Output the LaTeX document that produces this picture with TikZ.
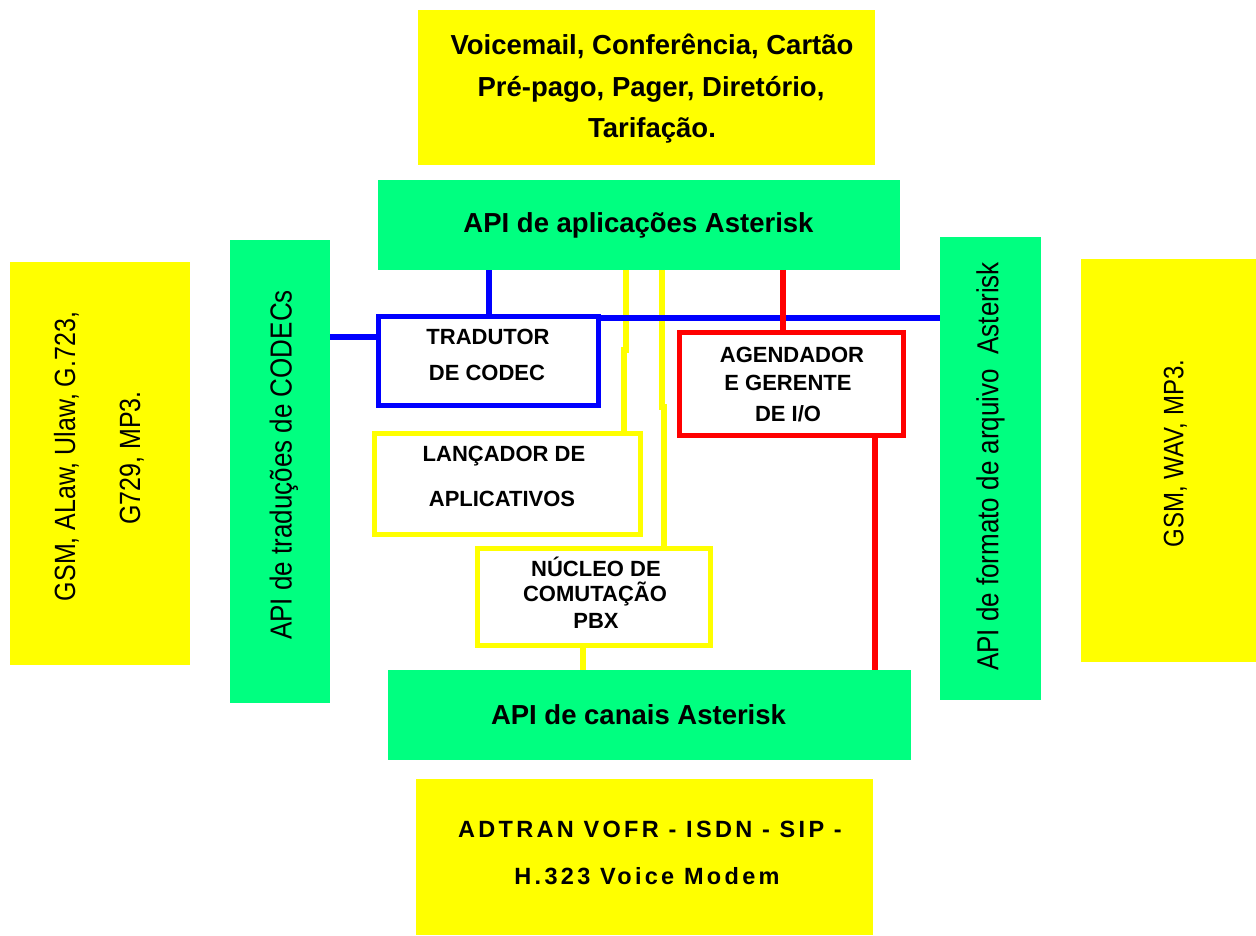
\documentclass[tikz,border=0pt]{standalone}
\usepackage{fontspec}
\setmainfont{Liberation Sans}
\usepackage{graphicx}
\definecolor{ygold}{RGB}{255,255,0}
\definecolor{sgreen}{RGB}{0,255,128}
\definecolor{lblue}{RGB}{0,0,255}
\definecolor{lred}{RGB}{255,0,0}
\newcommand{\vstretch}[1]{\scalebox{1}[1.17]{#1}}
\begin{document}
\begin{tikzpicture}[x=1pt,y=-1pt,
  plainbox/.style={inner sep=0pt, outer sep=0pt, draw=none},
  ybox/.style={plainbox, fill=ygold},
  gbox/.style={plainbox, fill=sgreen},
  framebox/.style={draw=#1, line width=5pt, fill=white, inner sep=0pt, outer sep=0pt},
  conn/.style={draw=#1, line width=6pt},
  bigtxt/.style={font=\fontsize{27.5}{33}\selectfont\bfseries, anchor=base, inner sep=0pt},
  lstxt/.style={font=\fontsize{23.5}{28}\selectfont\bfseries\addfontfeatures{LetterSpace=14}, anchor=base, inner sep=0pt},
  smalltxt/.style={font=\fontsize{22}{26}\selectfont\bfseries, anchor=base, inner sep=0pt},
  verttxt/.style={font=\fontsize{#1}{30}\selectfont, anchor=base, inner sep=0pt, rotate=90},
]
\fill[white] (0,0) rectangle (1256,936);
\useasboundingbox (0,0) rectangle (1256,936);

% outer boxes
\node[ybox, minimum width=457pt, minimum height=155pt] (apps) at (646.5,87.5) {};
\node[gbox, minimum width=522pt, minimum height=90pt] (appapi) at (639,225) {};
\node[ybox, minimum width=180pt, minimum height=403pt] (codecs) at (100,463.5) {};
\node[gbox, minimum width=100pt, minimum height=463pt] (codecapi) at (280,471.5) {};
\node[gbox, minimum width=101pt, minimum height=463pt] (fileapi) at (990.5,468.5) {};
\node[ybox, minimum width=185pt, minimum height=403pt] (formats) at (1173.5,460.5) {};
\node[gbox, minimum width=523pt, minimum height=90pt] (chanapi) at (649.5,715) {};
\node[ybox, minimum width=457pt, minimum height=156pt] (chans) at (644.5,857) {};

% inner boxes
\node[framebox=lblue, minimum width=220pt, minimum height=89pt] (tradutor) at (488.5,361) {};
\node[framebox=lred, minimum width=224pt, minimum height=103pt] (agendador) at (791.5,384) {};
\node[framebox=ygold, minimum width=266pt, minimum height=101pt] (lancador) at (507.5,484) {};
\node[framebox=ygold, minimum width=233pt, minimum height=97pt] (nucleo) at (594,597) {};

% connectors
\draw[conn=ygold] (appapi.south -| 626,0) -- (626,350) -- (623.5,350) -- (lancador.north -| 623.5,0);
\draw[conn=ygold] (appapi.south -| 662,0) -- (662,407) -- (663.5,407) -- (nucleo.north -| 663.5,0);
\draw[conn=ygold] (nucleo.south -| 583,0) -- (chanapi.north -| 583,0);
\draw[conn=lblue] (tradutor.north) -- (tradutor.north |- appapi.south);
\draw[conn=lblue] (codecapi.east |- 0,337) -- (tradutor.west |- 0,337);
\draw[conn=lblue] (tradutor.east |- 0,318) -- (fileapi.west |- 0,318);
\draw[conn=lred] (appapi.south -| 783,0) -- (agendador.north -| 783,0);
\draw[conn=lred] (agendador.south -| 875,0) -- (chanapi.north -| 875,0);

% texts
\node[bigtxt] (apps-1) at (652,55) {Voicemail, Conferência, Cartão};
\node[bigtxt] (apps-2) at (651,96.5) {Pré-pago, Pager, Diretório,};
\node[bigtxt] (apps-3) at (652,138) {Tarifação.};
\node[bigtxt] (appapi-t) at (638.5,232.8) {API de aplicações Asterisk};
\node[bigtxt] (chanapi-t) at (638.5,724.3) {API de canais Asterisk};
\node[lstxt] (chans-1) at (650,837.4) {ADTRAN VOFR - ISDN - SIP -};
\node[lstxt] (chans-2) at (647,884.1) {H.323 Voice Modem};

\node[smalltxt] (tradutor-1) at (488,344.9) {TRADUTOR};
\node[smalltxt] (tradutor-2) at (487,380.9) {DE CODEC};
\node[smalltxt] (agendador-1) at (792,362.9) {AGENDADOR};
\node[smalltxt] (agendador-2) at (788,390.9) {E GERENTE};
\node[smalltxt] (agendador-3) at (788,421.2) {DE I/O};
\node[smalltxt] (lancador-1) at (504,461.2) {LANÇADOR DE};
\node[smalltxt] (lancador-2) at (502,506.9) {APLICATIVOS};
\node[smalltxt] (nucleo-1) at (596,576.9) {NÚCLEO DE};
\node[smalltxt] (nucleo-2) at (595,601.9) {COMUTAÇÃO};
\node[smalltxt] (nucleo-3) at (596,628.6) {PBX};

\node[verttxt=25] (codecs-1) at (75,456.5) {\vstretch{GSM, ALaw, Ulaw, G.723,}};
\node[verttxt=25] (codecs-2) at (140,458) {\vstretch{G729, MP3.}};
\node[verttxt=26] (codecapi-t) at (291.6,465) {\vstretch{API de traduções de CODECs}};
\node[verttxt=26] (fileapi-t) at (998.3,466.5) {\vstretch{API de formato de arquivo\ \ Asterisk}};
\node[verttxt=24] (formats-t) at (1183.3,453.5) {\vstretch{GSM, WAV, MP3.}};
\end{tikzpicture}
\end{document}
